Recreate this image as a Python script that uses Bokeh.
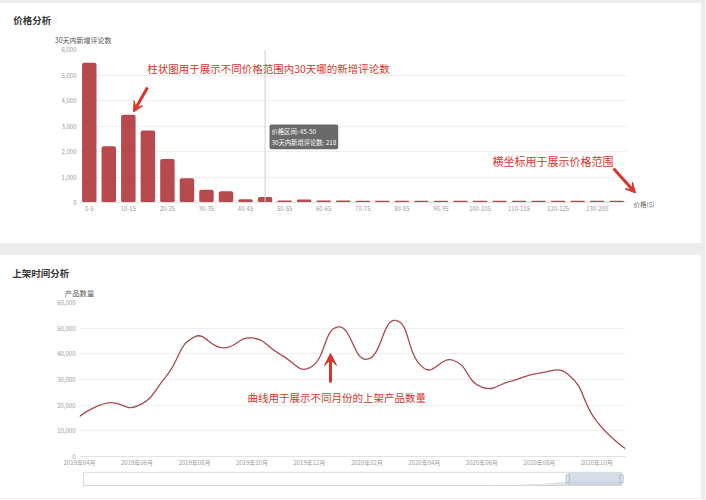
from math import hypot
from bokeh.plotting import figure
from bokeh.models import (Range1d, FixedTicker, NumeralTickFormatter, Label, Title,
                          Arrow, VeeHead, Span, Div)
from bokeh.layouts import column, row
from bokeh.embed import file_html
from bokeh.resources import INLINE

# ---------------- data ----------------
price_bins = ["0-5", "5-10", "10-15", "15-20", "20-25", "25-30", "30-35", "35-40",
              "40-45", "45-50", "50-55", "55-60", "60-65", "65-70", "70-75", "75-80",
              "80-85", "85-90", "90-95", "95-100", "100-105", "105-110", "110-115",
              "115-120", "120-125", "125-130", "130-200", ">200"]
review_counts = [5480, 2210, 3440, 2820, 1710, 950, 500, 445, 130, 218, 75, 115, 80, 75,
                 70, 70, 70, 70, 70, 70, 70, 70, 70, 70, 70, 70, 70, 70]
count_ticks = [0, 1000, 2000, 3000, 4000, 5000, 6000]
hover_bin = "45-50"

months = ["2019年04月", "2019年05月", "2019年06月", "2019年07月", "2019年08月",
          "2019年09月", "2019年10月", "2019年11月", "2019年12月", "2020年01月",
          "2020年02月", "2020年03月", "2020年04月", "2020年05月", "2020年06月",
          "2020年07月", "2020年08月", "2020年09月", "2020年10月", "2020年11月"]
product_counts = [15600, 20900, 19600, 31000, 46600, 42300, 46200, 39700, 34500, 50500,
                  37900, 53000, 34300, 37500, 27000, 29300, 32500, 32000, 13700, 3000]
product_ticks = [0, 10000, 20000, 30000, 40000, 50000, 60000]

# data-zoom slider (percent of full history) and its faint data shadow
zoom_start, zoom_end = 90, 100
shadow_pos = [0, 10, 20, 30, 40, 50, 60, 70, 80, 85, 90, 95, 100]
shadow_level = [0, 0, 0, 0, 0, 0, 0, 0.02, 0.06, 0.12, 0.3, 0.33, 0.3]

# ---------------- styles ----------------
FONT = "Noto Sans CJK SC"
BAR = "#b64a4d"
LINE = "#a9484e"
RED = "#d8352b"
TICK = "#9a9a9a"
GRID = "#efefef"
PAGE = "#ececec"
W = 701


def style_axes(p):
    for ax in p.xaxis + p.yaxis:
        ax.major_tick_line_color = None
        ax.minor_tick_line_color = None
        ax.major_tick_out = 0
        ax.major_tick_in = 0
        ax.minor_tick_out = 0
        ax.minor_tick_in = 0
        ax.major_label_text_font = FONT
        ax.major_label_text_font_size = "6px"
        ax.major_label_text_color = TICK
        ax.major_label_standoff = 3
    for ax in p.yaxis:
        ax.axis_line_color = None
    for ax in p.xaxis:
        ax.axis_line_color = "#e2e2e2"
    p.xgrid.visible = False
    p.ygrid.grid_line_color = GRID


def mk_label(x, y, text, size, color, bold=False, font=FONT):
    return Label(x=x, y=y, text=text, text_font=font,
                 text_font_size=f"{size}px", text_color=color,
                 text_font_style="bold" if bold else "normal",
                 text_align="left", text_baseline="middle")


# ================= top: price analysis =================
nb = len(price_bins)
BAND = 547 / nb                       # px per price bin (layout)
x_end = nb + (662 - 625) / BAND       # frame extends right to hold the arrow
p1 = figure(x_range=Range1d(0, x_end), y_range=Range1d(0, 6000),
            frame_width=584, frame_height=153,
            min_border_left=78, min_border_right=W - 78 - 584,
            min_border_top=46, min_border_bottom=41,
            output_backend="svg", toolbar_location=None,
            outline_line_color=None, border_fill_color="white")
bin_x = [i + 0.5 for i in range(nb)]
p1.vbar(x=bin_x, top=review_counts, width=0.74, fill_color=BAR,
        line_color=None, border_radius=2)
style_axes(p1)
p1.yaxis[0].ticker = FixedTicker(ticks=count_ticks)
p1.yaxis[0].formatter = NumeralTickFormatter(format="0,0")
p1.xaxis[0].ticker = FixedTicker(ticks=bin_x[::2])
p1.xaxis[0].major_label_overrides = {bin_x[i]: price_bins[i] for i in range(0, nb, 2)}
p1.xaxis[0].bounds = (0, nb)
try:
    p1.ygrid[0].cross_bounds = (0, nb)
except Exception:
    pass


def fx1(px):
    return (px - 78) / BAND


def fy1(py):
    return (202 - py) / 153 * 6000


hi = price_bins.index(hover_bin)
p1.add_layout(Span(location=bin_x[hi], dimension="height", line_color="#cfcfcf", line_width=1))
p1.add_layout(Label(x=fx1(268), y=fy1(124),
                    text=f"价格区间: {hover_bin}\n30天内新增评论数: {review_counts[hi]}",
                    text_font=FONT, text_font_size="6.3px", text_color="white",
                    text_align="left", text_baseline="top", text_line_height=1.3,
                    background_fill_color="#6a6a6a", background_fill_alpha=1.0,
                    border_radius=2, padding=2))

# texts outside the plot frame go into side panels (not clipped)
p1.add_layout(mk_label(fx1(11.7), fy1(19), "价格分析", 9.5, "#333333", bold=True), "above")
p1.add_layout(mk_label(fx1(50), fy1(19.7), "ⓘ", 6.5, "#c8c8c8"), "above")
p1.add_layout(mk_label(fx1(53.3), fy1(39), "30天内新增评论数", 7, "#555555"), "above")
p1.add_layout(mk_label(fx1(632), fy1(203), "价格($)", 6.5, "#666666"), "right")

p1.add_layout(mk_label(fx1(145.7), fy1(68.3), "柱状图用于展示不同价格范围内30天哪的新增评论数", 10.5, RED))
p1.add_layout(mk_label(fx1(491), fy1(160), "横坐标用于展示价格范围", 11, RED))
p1.add_layout(Arrow(x_start=fx1(146), y_start=fy1(87), x_end=fx1(132), y_end=fy1(111.5),
                    line_color=RED, line_width=3,
                    end=VeeHead(size=10, fill_color=RED, line_color=RED, line_width=1)))
p1.add_layout(Arrow(x_start=fx1(612), y_start=fy1(168), x_end=fx1(634), y_end=fy1(192.5),
                    line_color=RED, line_width=3,
                    end=VeeHead(size=10, fill_color=RED, line_color=RED, line_width=1)))

# ================= bottom: listing time =================
n = len(months)
p2 = figure(x_range=Range1d(0, n - 1), y_range=Range1d(0, 60000),
            frame_width=546, frame_height=154,
            min_border_left=79, min_border_right=W - 79 - 546,
            min_border_top=47, min_border_bottom=14,
            output_backend="svg", toolbar_location=None,
            outline_line_color=None, border_fill_color="white")
style_axes(p2)
p2.yaxis[0].ticker = FixedTicker(ticks=product_ticks)
p2.yaxis[0].formatter = NumeralTickFormatter(format="0,0")
p2.yaxis[0].major_label_standoff = 4
p2.xaxis[0].ticker = FixedTicker(ticks=list(range(0, n, 2)))
p2.xaxis[0].major_label_overrides = {i: months[i] for i in range(0, n, 2)}
p2.xaxis[0].major_label_standoff = 1

# ECharts-style smooth curve (smooth = 0.5), control points computed in pixel-like space
XS, YS, SM = 28.75, 0.00256, 0.5
pts = [(i * XS, v * YS) for i, v in enumerate(product_counts)]
c_in, c_out = [], []
for k, (x, y) in enumerate(pts):
    if k == 0 or k == n - 1:
        c_in.append((x, y))
        c_out.append((x, y))
        continue
    (ax_, ay_), (bx_, by_) = pts[k - 1], pts[k + 1]
    vx, vy = bx_ - ax_, by_ - ay_
    l0, l1 = hypot(x - ax_, y - ay_), hypot(bx_ - x, by_ - y)
    r = l1 / (l0 + l1)
    c_out.append((x + vx * SM * r, y + vy * SM * r))
    c_in.append((x - vx * SM * (1 - r), y - vy * SM * (1 - r)))
seg = range(n - 1)
p2.bezier(x0=[pts[i][0] / XS for i in seg], y0=[pts[i][1] / YS for i in seg],
          x1=[pts[i + 1][0] / XS for i in seg], y1=[pts[i + 1][1] / YS for i in seg],
          cx0=[c_out[i][0] / XS for i in seg], cy0=[c_out[i][1] / YS for i in seg],
          cx1=[c_in[i + 1][0] / XS for i in seg], cy1=[c_in[i + 1][1] / YS for i in seg],
          line_color=LINE, line_width=1.3)
p2.scatter(x=[n - 1], y=[product_counts[-1]], size=2.5, fill_color="#bbbbbb", line_color=None)


def fx2(px):
    return (px - 79) / 546 * (n - 1)


def fy2(py):
    return (456 - py) / 154 * 60000


# titles above the frame (first added sits nearest to the frame)
p2.add_layout(Title(text="产品数量", align="left", offset=64.3 - 79, standoff=9.6,
                    text_font=FONT, text_font_size="7.4px", text_color="#555555",
                    text_font_style="normal"), "above")
p2.add_layout(Title(text="上架时间分析", align="left", offset=11.7 - 79, standoff=0,
                    text_font=FONT, text_font_size="9.5px", text_color="#333333",
                    text_font_style="bold"), "above")
p2.add_layout(mk_label(fx2(247), fy2(396.7), "曲线用于展示不同月份的上架产品数量", 10.5, RED))
p2.add_layout(Arrow(x_start=fx2(330), y_start=fy2(382), x_end=fx2(330), y_end=fy2(353),
                    line_color=RED, line_width=3,
                    end=VeeHead(size=12, fill_color=RED, line_color=RED, line_width=1)))

# ================= data-zoom slider =================
p3 = figure(x_range=Range1d(-4 / 5.47, 100 + 4 / 5.47), y_range=Range1d(-3 / 13.3, 1 + 0.7 / 13.3),
            width=W, height=28,
            min_border_left=72, min_border_right=66, min_border_top=1, min_border_bottom=10,
            output_backend="svg", toolbar_location=None,
            x_axis_type=None, y_axis_type=None,
            outline_line_color=None, border_fill_color="white")
p3.grid.visible = False
p3.varea(x=shadow_pos, y1=[0] * len(shadow_pos), y2=shadow_level,
         fill_color="#d3d7dd", fill_alpha=0.7)
p3.quad(left=[zoom_start], right=[zoom_end], bottom=[0], top=[1],
        fill_color="#c7d1e0", fill_alpha=0.75, line_color=None)
p3.quad(left=[0], right=[100], bottom=[0], top=[1],
        fill_color=None, line_color="#d6d6d6", line_width=1)
p3.rect(x=[zoom_start, zoom_end], y=[0.5, 0.5], width=3, height=8,
        width_units="screen", height_units="screen",
        fill_color="#e3e8ef", line_color="#9fadc2", line_width=0.8)


def strip(w, h):
    return Div(text="", width=w, height=h, margin=0, styles={"background-color": PAGE})


page = row(column(strip(W, 3), p1, strip(W, 12), p2, p3, strip(W, 1), spacing=0),
           strip(4, 499), spacing=0)
with open("out.html", "w", encoding="utf-8") as f:
    f.write(file_html(page, INLINE, "chart"))
